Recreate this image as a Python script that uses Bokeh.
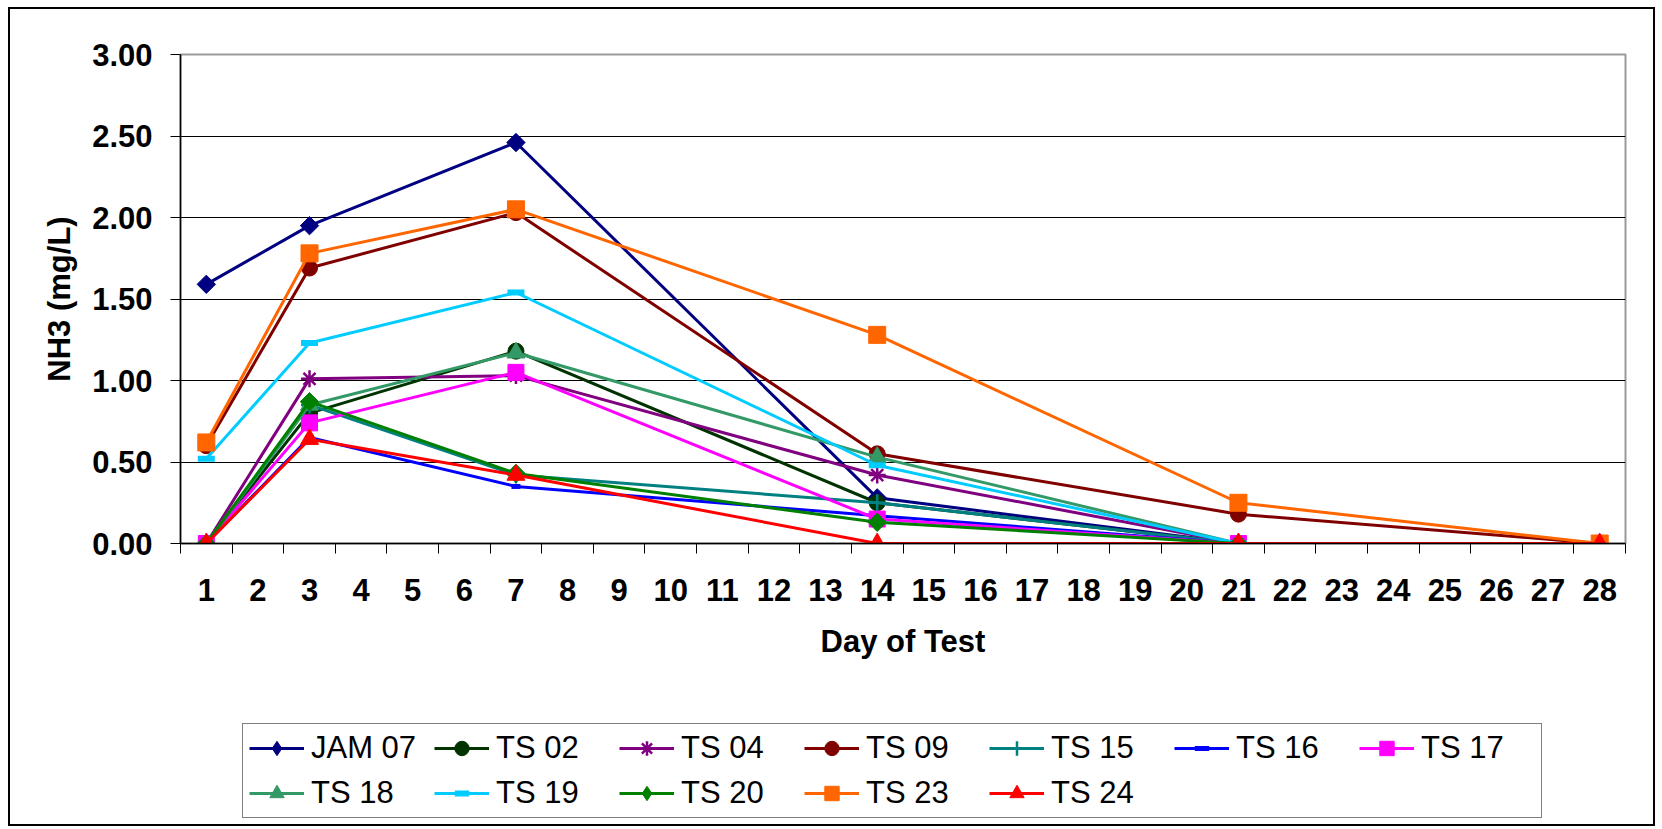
import math
from bokeh.plotting import figure
from bokeh.layouts import column
from bokeh.models import (Range1d, FixedTicker, NumeralTickFormatter, Legend,
                          LegendItem, ColumnDataSource)
from bokeh.embed import file_html
from bokeh.resources import INLINE

# ---- data -------------------------------------------------------------
days = [1, 3, 7, 14, 21, 28]
day_ticks = list(range(1, 29))
y_ticks = [0.0, 0.5, 1.0, 1.5, 2.0, 2.5, 3.0]

series_names = ["JAM 07", "TS 02", "TS 04", "TS 09", "TS 15", "TS 16",
                "TS 17", "TS 18", "TS 19", "TS 20", "TS 23", "TS 24"]

jam_07 = [1.59, 1.95, 2.46, 0.28, 0.00, None]
ts_02 = [0.00, 0.80, 1.18, 0.25, 0.00, None]
ts_04 = [0.00, 1.01, 1.03, 0.42, 0.00, None]
ts_09 = [0.60, 1.69, 2.03, 0.55, 0.18, 0.00]
ts_15 = [0.00, 0.85, 0.42, 0.25, 0.00, None]
ts_16 = [0.00, 0.65, 0.35, 0.17, 0.00, None]
ts_17 = [0.00, 0.74, 1.05, 0.15, 0.00, None]
ts_18 = [0.00, 0.85, 1.17, 0.53, 0.00, None]
ts_19 = [0.52, 1.23, 1.54, 0.48, 0.00, None]
ts_20 = [0.00, 0.87, 0.43, 0.13, 0.00, None]
ts_23 = [0.62, 1.78, 2.05, 1.28, 0.25, 0.00]
ts_24 = [0.00, 0.64, 0.42, 0.00, 0.00, 0.00]

series_values = [jam_07, ts_02, ts_04, ts_09, ts_15, ts_16,
                 ts_17, ts_18, ts_19, ts_20, ts_23, ts_24]

# ---- styles -----------------------------------------------------------
colors = ["#000080", "#003300", "#800080", "#800000", "#008080", "#0000FF",
          "#FF00FF", "#339966", "#00CCFF", "#008000", "#FF6600", "#FF0000"]
markers = ["diamond", "circle", "asterisk", "circle", "cross", "dash",
           "square", "triangle", "dash", "diamond", "square", "triangle"]
msizes = [13, 16, 17, 16, 17, 9, 16, 18, 17, 13, 17, 18]

FONT = "Liberation Sans"


def add_series(fig, xs, ys, col, mk, ms, for_legend=False):
    src = ColumnDataSource(dict(x=xs, y=ys))
    rl = fig.line("x", "y", source=src, line_color=col, line_width=3)
    if mk == "dash":
        rm = fig.scatter("x", "y", source=src, marker="dash", size=ms,
                         line_color=col, line_width=6 if ms > 10 else 5)
    elif mk in ("asterisk", "cross"):
        rm = fig.scatter("x", "y", source=src, marker=mk, size=ms,
                         line_color=col, line_width=2.5)
    elif mk == "diamond" and not for_legend:
        rm = fig.scatter("x", "y", source=src, marker="square", size=ms,
                         angle=math.pi / 4,
                         fill_color=col, line_color=col, line_width=1)
    else:
        rm = fig.scatter("x", "y", source=src, marker=mk, size=ms,
                         fill_color=col, line_color=col, line_width=1)
    return [rl, rm]


# ---- main chart -------------------------------------------------------
p = figure(width=1662, height=700, output_backend="svg", toolbar_location=None,
           x_range=Range1d(0.5, 28.5), y_range=Range1d(0, 3),
           min_border_left=180, min_border_right=37,
           min_border_top=54, min_border_bottom=157)

p.background_fill_color = "white"
p.border_fill_color = None
p.outline_line_color = "#999999"
p.outline_line_width = 2

p.xgrid.grid_line_color = None
p.ygrid.grid_line_color = "black"
p.ygrid.grid_line_width = 1
p.ygrid.ticker = FixedTicker(ticks=y_ticks)

p.yaxis.ticker = FixedTicker(ticks=y_ticks)
p.yaxis.formatter = NumeralTickFormatter(format="0.00")
p.yaxis.major_tick_out = 10
p.yaxis.major_tick_in = 0
p.yaxis.minor_tick_out = 0
p.yaxis.minor_tick_in = 0
p.yaxis.major_label_standoff = 18
p.yaxis.axis_label = "NH3 (mg/L)"
p.yaxis.axis_label_standoff = 12

p.xaxis.ticker = FixedTicker(ticks=day_ticks,
                             minor_ticks=[d - 0.5 for d in day_ticks] + [28.5])
p.xaxis.major_tick_out = 0
p.xaxis.major_tick_in = 0
p.xaxis.minor_tick_out = 10
p.xaxis.minor_tick_in = 0
p.xaxis.major_label_standoff = 25
p.xaxis.axis_label = "Day of Test"
p.xaxis.axis_label_standoff = 20

for ax in (p.xaxis[0], p.yaxis[0]):
    ax.axis_line_color = "black"
    ax.axis_line_width = 1.5
    ax.major_tick_line_color = "black"
    ax.minor_tick_line_color = "black"
    ax.major_label_text_font = FONT
    ax.major_label_text_font_style = "bold"
    ax.major_label_text_font_size = "31px"
    ax.major_label_text_color = "black"
    ax.axis_label_text_font = FONT
    ax.axis_label_text_font_style = "bold"
    ax.axis_label_text_font_size = "31px"
    ax.axis_label_text_color = "black"

for vals, col, mk, ms in zip(series_values, colors, markers, msizes):
    xs = [d for d, v in zip(days, vals) if v is not None]
    ys = [v for v in vals if v is not None]
    add_series(p, xs, ys, col, mk, ms)

# ---- legend strip (same series styles, placeholder NaN point) ----------
lf = figure(width=1662, height=129, output_backend="svg", toolbar_location=None,
            x_range=Range1d(0, 1), y_range=Range1d(0, 1),
            x_axis_location=None, y_axis_location=None,
            min_border=0, min_border_left=0, min_border_right=0,
            min_border_top=0, min_border_bottom=0)
lf.grid.visible = False
lf.outline_line_color = None
lf.background_fill_color = None
lf.border_fill_color = None

items = []
for name, col, mk, ms in zip(series_names, colors, markers, msizes):
    rs = add_series(lf, [float("nan")], [float("nan")], col, mk, ms, for_legend=True)
    items.append(LegendItem(label=name, renderers=rs))

legend = Legend(items=items, orientation="horizontal", ncols=7,
                location=(62, 11),
                label_text_font=FONT, label_text_font_size="31px",
                label_text_color="black",
                glyph_width=55, glyph_height=36, label_height=36,
                label_width=114, label_standoff=7, spacing=9, padding=6,
                margin=0, border_line_color="black", border_line_width=1.5,
                background_fill_color="white", background_fill_alpha=1)
lf.add_layout(legend, "center")

frame_css = ("inset 0 7px 0 0 white, inset 0 -3px 0 0 white, "
             "inset 8px 0 0 0 white, inset -7px 0 0 0 white, "
             "inset 0 9px 0 0 black, inset 0 -5px 0 0 black, "
             "inset 10px 0 0 0 black, inset -9px 0 0 0 black")
layout = column(p, lf, spacing=0, styles={"box-shadow": frame_css})

open("out.html", "w").write(file_html(layout, INLINE))
